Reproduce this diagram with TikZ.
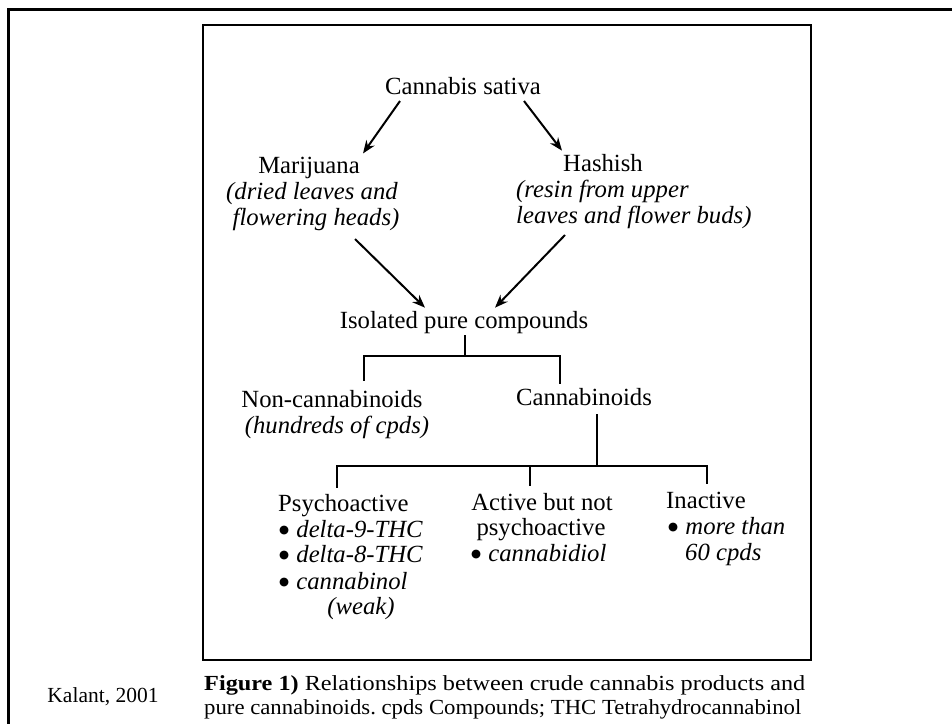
\documentclass[tikz,border=0pt]{standalone}
\usepackage{fontspec}
\usepackage{graphicx}
\setmainfont{Liberation Serif}
\newfontfamily\dejavu{DejaVu Sans}
\usetikzlibrary{arrows.meta}
\newcommand{\bigdot}{\raisebox{3.5pt}{\dejavu\fontsize{11.5}{12}\selectfont ●}\hspace{1pt}}
\begin{document}
\frenchspacing
\begin{tikzpicture}[x=1pt,y=-1pt,
  lbl/.style={inner sep=0pt,font=\fontsize{24.7}{26}\selectfont},
  captext/.style={inner sep=0pt,font=\fontsize{21.5}{24}\selectfont},
  arr/.style={line width=2pt,-{Stealth[length=13pt,width=10pt]}},
  tree/.style={line width=2pt}]
\useasboundingbox (0,0) rectangle (952,724);
% outer frame and inner box
\draw[line width=3pt] (952,9.5) -- (8,9.5) -- (8,724);
\draw[line width=2.5pt] (203,25) rectangle (811,660);
% nodes
\node[lbl,anchor=base] (cs) at (463,94) {Cannabis sativa};
\node[lbl,anchor=base] (mar) at (309,173) {Marijuana};
\node[lbl,anchor=base] (mar1) at (312,199) {\textit{(dried leaves and}};
\node[lbl,anchor=base] (mar2) at (316,225) {\textit{flowering heads)}};
\node[lbl,anchor=base] (hash) at (603,171) {Hashish};
\node[lbl,anchor=base west] (hash1) at (516,197) {\textit{(resin from upper}};
\node[lbl,anchor=base west] (hash2) at (516,223) {\textit{leaves and flower buds)}};
\node[lbl,anchor=base] (iso) at (464,328) {Isolated pure compounds};
\node[lbl,anchor=base] (non) at (332,407) {Non-cannabinoids};
\node[lbl,anchor=base] (non1) at (337,433) {\textit{(hundreds of cpds)}};
\node[lbl,anchor=base] (can) at (584,405) {Cannabinoids};
\node[lbl,anchor=base west] (psy) at (278,511) {Psychoactive};
\node[lbl,anchor=base west] (psy1) at (279,537) {\bigdot~\textit{delta-9-THC}};
\node[lbl,anchor=base west] (psy2) at (279,562) {\bigdot~\textit{delta-8-THC}};
\node[lbl,anchor=base west] (psy3) at (279,589) {\bigdot~\textit{cannabinol}};
\node[lbl,anchor=base] (psy4) at (361,614) {\textit{(weak)}};
\node[lbl,anchor=base] (act) at (542,510) {Active but not};
\node[lbl,anchor=base] (act1) at (541,535) {psychoactive};
\node[lbl,anchor=base west] (act2) at (471,561) {\bigdot~\textit{cannabidiol}};
\node[lbl,anchor=base west] (ina) at (666,508) {Inactive};
\node[lbl,anchor=base west] (ina1) at (668,534) {\bigdot~\textit{more than}};
\node[lbl,anchor=base west] (ina2) at (685,560) {\textit{60 cpds}};
% caption
\node[captext,anchor=base] (kal) at (103,702) {Kalant, 2001};
\node[captext,anchor=base west] (fig1) at (204,690) {\resizebox{601pt}{\height}{\textbf{Figure 1)} Relationships between crude cannabis products and}};
\node[captext,anchor=base west] (fig2) at (204,714) {\resizebox{597pt}{\height}{pure cannabinoids. cpds Compounds; THC Tetrahydrocannabinol}};
% arrows
\draw[arr] ([shift={(-63,7)}]cs.base) -- ([shift={(54,-3)}]mar.north);
\draw[arr] ([shift={(61,7)}]cs.base) -- ([shift={(-41,-3)}]hash.north);
\draw[arr] ([shift={(39,14)}]mar2.base) -- ([shift={(-39,-3)}]iso.north);
\draw[arr] ([shift={(49,12)}]hash2.base west) -- ([shift={(31,-3)}]iso.north);
% first tree
\draw[tree] ([shift={(1,2)}]iso.south) -- ++(0,21) coordinate (j1);
\draw[tree] ([shift={(32,-9)}]non.north) |- (j1) -| ([shift={(-24,-4)}]can.north);
% second tree
\draw[tree] ([shift={(13,9)}]can.south) -- ++(0,52) coordinate (j2);
\draw[tree] ([shift={(59,-6)}]psy.north west) |- (j2) -| ([shift={(41,-7)}]ina.north west);
\coordinate (m) at ([shift={(-12,-7)}]act.north);
\draw[tree] (m) -- (m |- j2);
\end{tikzpicture}
\end{document}
